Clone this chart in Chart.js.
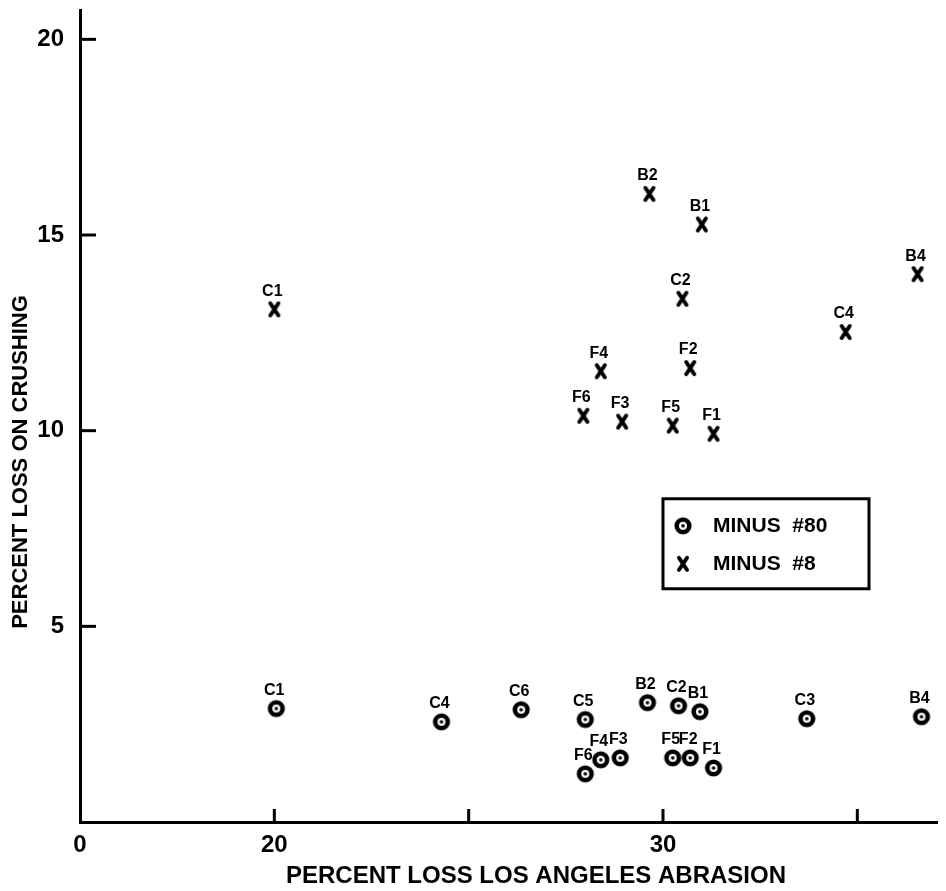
<!DOCTYPE html>
<html>
<head>
<meta charset="utf-8">
<script src="https://cdn.jsdelivr.net/npm/chart.js@4.4.1/dist/chart.umd.min.js"></script>
<style>
  html, body { margin: 0; padding: 0; background: #fff; }
  #wrap { width: 946px; height: 891px; position: relative; }
</style>
</head>
<body>
<div id="wrap"><canvas id="chart"></canvas></div>
<script>
// minus #80 fraction (circles)
const names80 = ['C1', 'C4', 'C6', 'C5', 'B2', 'C2', 'B1', 'F6', 'F4', 'F3', 'F5', 'F2', 'F1', 'C3', 'B4'];
const abrasion80 = [20.05, 24.3, 26.35, 28.0, 29.6, 30.4, 30.95, 28.0, 28.4, 28.9, 30.25, 30.7, 31.3, 33.7, 36.65];
const crushing80 = [2.9, 2.56, 2.87, 2.62, 3.05, 2.97, 2.82, 1.23, 1.59, 1.64, 1.64, 1.64, 1.38, 2.64, 2.69];

// minus #8 fraction (crosses)
const names8 = ['C1', 'B2', 'B1', 'C2', 'F4', 'F2', 'F6', 'F3', 'F5', 'F1', 'C4', 'B4'];
const abrasion8 = [20.0, 29.65, 31.0, 30.5, 28.4, 30.7, 27.95, 28.95, 30.25, 31.3, 34.7, 36.55];
const crushing8 = [13.1, 16.05, 15.27, 13.37, 11.52, 11.6, 10.38, 10.23, 10.13, 9.92, 12.52, 14.0];

// broken x axis: the origin is labelled 0
const xTickValues = [15, 20, 25, 30, 35];
const xTickLabels = ['0', '20', '', '30', ''];
const yTickValues = [5, 10, 15, 20];
const yTickLabels = ['5', '10', '15', '20'];

const xTitle = 'PERCENT LOSS LOS ANGELES ABRASION';
const yTitle = 'PERCENT LOSS ON CRUSHING';
const legendLabels = ['MINUS  #80', 'MINUS  #8'];

const FONT = "'Liberation Sans', Arial, sans-serif";

function makeRing() {
    const c = document.createElement('canvas');
    c.width = 20; c.height = 20;
    const g = c.getContext('2d');
    g.beginPath();
    g.arc(10, 10, 6.3, 0, Math.PI * 2);
    g.fillStyle = '#fff';
    g.fill();
    g.lineWidth = 4.6;
    g.strokeStyle = '#000';
    g.stroke();
    g.beginPath();
    g.arc(10, 10, 1.8, 0, Math.PI * 2);
    g.fillStyle = '#000';
    g.fill();
    return c;
}

function makeCross() {
    const c = document.createElement('canvas');
    c.width = 18; c.height = 20;
    const g = c.getContext('2d');
    g.strokeStyle = '#000';
    g.lineWidth = 4;
    g.lineCap = 'round';
    g.beginPath();
    g.moveTo(5, 4); g.lineTo(13, 16);
    g.moveTo(13, 4); g.lineTo(5, 16);
    g.stroke();
    return c;
}

const ringImg = makeRing();
const crossImg = makeCross();

const toPoints = (xs, ys) => xs.map((x, i) => ({ x: x, y: ys[i] }));

// inward tick marks + axis titles
const axisDecor = {
    id: 'axisDecor',
    afterDraw(chart) {
        const { ctx, chartArea, scales } = chart;
        ctx.save();
        ctx.strokeStyle = '#000';
        ctx.lineWidth = 3;
        xTickValues.forEach(v => {
            if (v === scales.x.min) return;
            const px = scales.x.getPixelForValue(v);
            ctx.beginPath();
            ctx.moveTo(px, chartArea.bottom);
            ctx.lineTo(px, chartArea.bottom - 13);
            ctx.stroke();
        });
        yTickValues.forEach(v => {
            const py = scales.y.getPixelForValue(v);
            ctx.beginPath();
            ctx.moveTo(chartArea.left, py);
            ctx.lineTo(chartArea.left + 16, py);
            ctx.stroke();
        });

        ctx.fillStyle = '#000';
        ctx.textAlign = 'center';
        ctx.textBaseline = 'middle';
        ctx.font = 'bold 24px ' + FONT;
        ctx.fillText(xTitle, chartArea.left + 456, chartArea.bottom + 54);

        ctx.translate(chartArea.left - 59, chartArea.bottom - 360);
        ctx.rotate(-Math.PI / 2);
        ctx.font = 'bold 22px ' + FONT;
        ctx.fillText(yTitle, 0, 0);
        ctx.restore();
    }
};

// sample names above every point
const pointNames = {
    id: 'pointNames',
    afterDatasetsDraw(chart) {
        const ctx = chart.ctx;
        ctx.save();
        ctx.fillStyle = '#000';
        ctx.font = 'bold 16px ' + FONT;
        ctx.textAlign = 'center';
        ctx.textBaseline = 'middle';
        chart.data.datasets.forEach((ds, di) => {
            const meta = chart.getDatasetMeta(di);
            meta.data.forEach((el, i) => {
                ctx.fillText(ds.names[i], el.x - 2, el.y - 18);
            });
        });
        ctx.restore();
    }
};

// boxed legend inside the plot
const boxLegend = {
    id: 'boxLegend',
    afterDraw(chart) {
        const { ctx, scales } = chart;
        const left = scales.x.getPixelForValue(30.0);
        const top = scales.y.getPixelForValue(8.26);
        const w = 206, h = 90;
        ctx.save();
        ctx.strokeStyle = '#000';
        ctx.lineWidth = 3;
        ctx.strokeRect(left, top, w, h);
        const icons = [ringImg, crossImg];
        ctx.fillStyle = '#000';
        ctx.font = 'bold 21px ' + FONT;
        ctx.textBaseline = 'middle';
        ctx.textAlign = 'left';
        legendLabels.forEach((t, i) => {
            const cy = top + 27 + i * 38;
            const img = icons[i];
            ctx.drawImage(img, left + 20 - img.width / 2, cy - img.height / 2);
            ctx.fillText(t, left + 50, cy);
        });
        ctx.restore();
    }
};

const ctx = document.getElementById('chart').getContext('2d');

new Chart(ctx, {
    type: 'scatter',
    data: {
        datasets: [
            {
                label: 'MINUS #80',
                names: names80,
                data: toPoints(abrasion80, crushing80),
                pointStyle: ringImg,
                pointRadius: 8,
                pointHoverRadius: 8
            },
            {
                label: 'MINUS #8',
                names: names8,
                data: toPoints(abrasion8, crushing8),
                pointStyle: crossImg,
                pointRadius: 8,
                pointHoverRadius: 8
            }
        ]
    },
    options: {
        responsive: true,
        maintainAspectRatio: false,
        animation: false,
        layout: { padding: { top: 10, right: 6, left: 0, bottom: 0 } },
        plugins: {
            legend: { display: false },
            tooltip: { enabled: false }
        },
        scales: {
            x: {
                type: 'linear',
                min: 15,
                max: 37.05,
                afterBuildTicks: s => { s.ticks = xTickValues.map(v => ({ value: v })); },
                afterFit: s => { s.height = 69; s.paddingLeft = 0; s.paddingRight = 0; },
                grid: { display: false, drawTicks: false },
                border: { display: true, width: 3, color: '#000' },
                ticks: {
                    autoSkip: false,
                    maxRotation: 0,
                    padding: 9,
                    color: '#000',
                    font: { family: FONT, size: 24, weight: 'bold' },
                    callback: v => xTickLabels[xTickValues.indexOf(v)] ?? ''
                }
            },
            y: {
                type: 'linear',
                min: 0,
                max: 20.75,
                afterBuildTicks: s => { s.ticks = yTickValues.map(v => ({ value: v })); },
                afterFit: s => { s.width = 80; s.paddingTop = 0; s.paddingBottom = 0; },
                grid: { display: false, drawTicks: false },
                border: { display: true, width: 3, color: '#000' },
                ticks: {
                    autoSkip: false,
                    padding: 16,
                    color: '#000',
                    font: { family: FONT, size: 24, weight: 'bold' },
                    callback: v => yTickLabels[yTickValues.indexOf(v)] ?? ''
                }
            }
        }
    },
    plugins: [axisDecor, pointNames, boxLegend]
});
</script>
</body>
</html>
